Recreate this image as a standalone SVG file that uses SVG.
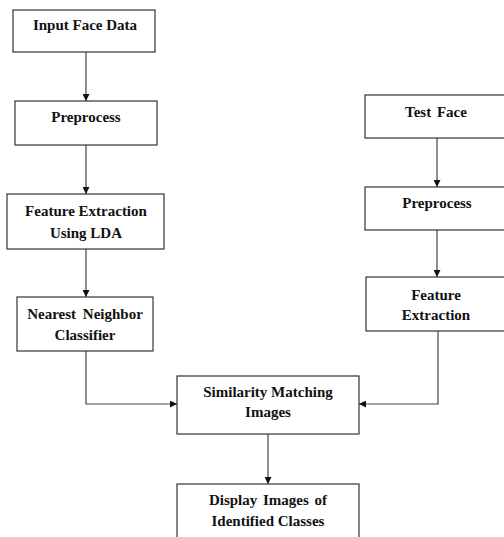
<svg xmlns="http://www.w3.org/2000/svg" width="504" height="537" viewBox="0 0 504 537">
<style>
.box{fill:#fff;stroke:#333;stroke-width:1.2}
.t{font-family:'Liberation Serif','Times New Roman',serif;font-weight:bold;font-size:15px;fill:#111;text-anchor:middle}
.c{fill:none;stroke:#444;stroke-width:1.2}
</style>
<defs>
<marker id="a" viewBox="0 0 10 10" refX="10" refY="5" markerWidth="7" markerHeight="7" markerUnits="userSpaceOnUse" orient="auto">
<path d="M0,0 L10,5 L0,10 z" fill="#111"/>
</marker>
</defs>
<rect width="504" height="537" fill="#fff"/>
<g id="connectors">
<path class="c" d="M86,52 V101" marker-end="url(#a)"/>
<path class="c" d="M86,145 V194" marker-end="url(#a)"/>
<path class="c" d="M86,249 V297" marker-end="url(#a)"/>
<path class="c" d="M86,351 V404 H177" marker-end="url(#a)"/>
<path class="c" d="M437,138 V187" marker-end="url(#a)"/>
<path class="c" d="M437,230 V277" marker-end="url(#a)"/>
<path class="c" d="M438,331 V404 H359" marker-end="url(#a)"/>
<path class="c" d="M268,434 V484" marker-end="url(#a)"/>
</g>
<g id="input-face-data">
<rect class="box" x="13" y="10" width="142" height="42"/>
<text class="t" x="85" y="30">Input Face Data</text>
</g>
<g id="preprocess-1">
<rect class="box" x="15" y="101" width="142" height="44"/>
<text class="t" x="86" y="122">Preprocess</text>
</g>
<g id="feature-extraction-lda">
<rect class="box" x="7" y="194" width="157" height="55"/>
<text class="t" x="86" y="216">Feature Extraction</text>
<text class="t" x="86" y="238">Using LDA</text>
</g>
<g id="nearest-neighbor">
<rect class="box" x="17" y="297" width="136" height="54"/>
<text class="t" x="85" y="319" word-spacing="3">Nearest Neighbor</text>
<text class="t" x="85" y="340">Classifier</text>
</g>
<g id="test-face">
<rect class="box" x="365" y="95" width="145" height="43"/>
<text class="t" x="436" y="117" word-spacing="2">Test Face</text>
</g>
<g id="preprocess-2">
<rect class="box" x="365" y="187" width="145" height="43"/>
<text class="t" x="437" y="208">Preprocess</text>
</g>
<g id="feature-extraction-2">
<rect class="box" x="366" y="277" width="144" height="54"/>
<text class="t" x="436" y="300">Feature</text>
<text class="t" x="436" y="320">Extraction</text>
</g>
<g id="similarity-matching">
<rect class="box" x="177" y="376" width="182" height="58"/>
<text class="t" x="268" y="397">Similarity Matching</text>
<text class="t" x="268" y="417">Images</text>
</g>
<g id="display-images">
<rect class="box" x="177" y="484" width="182" height="60"/>
<text class="t" x="268" y="505" word-spacing="2">Display Images of</text>
<text class="t" x="268" y="526">Identified Classes</text>
</g>
</svg>
